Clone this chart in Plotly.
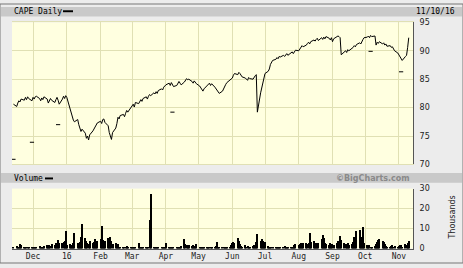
import pandas as pd
import plotly.graph_objects as go

W, H = 463, 268

# ---- data ----
close_nov15 = [80.6, 80.2, 80.8, 81.2, 81.0, 81.5, 81.3, 81.8, 81.4, 81.9, 81.6, 81.2]
close_dec15 = [81.8, 81.5, 81.9, 82.0, 81.6, 81.2, 81.7, 81.4, 81.9, 81.5, 80.8, 81.2,
               81.6, 81.3, 80.9, 81.4, 81.8, 81.3, 80.6, 81.5, 82.0, 81.6, 82.1]
close_jan16 = [81.8, 79.6, 79.0, 78.4, 77.8, 77.5, 77.9, 77.0, 76.4, 75.8, 76.2, 75.5,
               74.6, 75.0, 74.3, 75.2, 75.9, 76.2, 76.6, 77.0, 77.3]
close_feb16 = [77.6, 77.2, 77.9, 78.0, 77.4, 76.8, 75.6, 74.8, 74.4, 75.6, 76.4, 77.2,
               78.3, 78.0, 78.6, 78.8, 78.4, 79.0, 79.5, 79.2, 80.0]
close_mar16 = [80.2, 80.6, 80.1, 80.9, 80.7, 81.0, 81.4, 81.1, 81.6, 81.9, 81.5, 82.0,
               82.3, 82.1, 82.6, 82.4, 82.8, 82.5, 83.0, 83.3, 83.1, 83.6, 83.9]
close_apr16 = [84.0, 84.3, 83.9, 84.4, 84.1, 83.7, 83.9, 84.2, 84.6, 84.3, 84.0, 84.5,
               84.8, 85.1, 84.9, 85.0, 84.6, 84.3, 84.7, 84.4, 84.2]
close_may16 = [83.8, 83.4, 83.0, 82.9, 83.3, 83.8, 84.1, 84.3, 83.9, 84.2, 83.6, 83.3,
               83.0, 82.7, 82.5, 82.9, 83.4, 83.8, 84.1, 84.4, 84.8, 85.0]
close_jun16 = [85.2, 85.7, 86.0, 85.8, 86.2, 86.0, 85.6, 85.4, 85.2, 85.0, 84.8, 85.3,
               85.1, 85.0, 85.4, 85.6, 85.8, 79.2, 82.6, 83.4, 84.3, 85.4]
close_jul16 = [86.0, 86.4, 86.8, 87.6, 88.0, 88.3, 88.5, 88.8, 88.6, 89.0, 88.9, 89.2,
               89.0, 89.3, 89.5, 89.2, 89.6, 89.8, 89.5, 89.9, 90.1]
close_aug16 = [90.0, 90.3, 90.6, 90.9, 90.7, 91.0, 91.3, 91.5, 91.2, 91.6, 91.9, 91.7,
               92.0, 92.2, 91.8, 92.3, 92.0, 92.4, 92.1, 92.5, 92.2, 91.9, 92.3]
close_sep16 = [91.6, 92.1, 92.4, 92.6, 92.5, 92.3, 89.3, 89.8, 90.0, 89.7, 90.2, 90.0,
               90.4, 90.6, 90.9, 90.7, 91.1, 91.4, 91.2, 91.7, 92.0, 92.3]
close_oct16 = [92.4, 92.6, 92.3, 92.7, 92.5, 92.6, 91.0, 91.5, 91.3, 91.6, 91.2, 91.4,
               91.0, 91.2, 90.8, 90.9, 90.6, 90.7, 90.3, 90.0, 89.6]
close_nov16 = [89.3, 88.9, 88.5, 88.3, 89.0, 89.2, 90.6, 92.3]

vol_nov15 = [1.0, 1.5, 0.8, 1.2, 2.5, 1.8, 1.0, 0.7, 0.9, 0.5, 1.1, 0.8]
vol_dec15 = [0.9, 1.2, 0.8, 1.0, 1.4, 0.7, 1.1, 0.9, 1.3, 2.0, 1.6, 2.2, 1.5, 2.4, 1.8,
             3.0, 2.5, 4.5, 3.2, 2.8, 3.5, 4.0, 9.0]
vol_jan16 = [2.0, 2.5, 1.8, 2.2, 3.0, 8.0, 3.2, 2.8, 3.5, 6.0, 12.4, 5.5, 4.0, 3.2, 2.5,
             4.0, 3.0, 3.6, 4.8, 3.0, 4.2]
vol_feb16 = [5.0, 11.5, 4.5, 3.5, 4.2, 5.5, 3.0, 6.0, 4.0, 2.5, 2.8, 2.2, 2.6, 1.2, 1.0,
             0.8, 1.1, 0.9, 1.3, 0.7, 1.0]
vol_mar16 = [1.0, 0.8, 1.2, 0.9, 3.0, 1.0, 0.8, 0.7, 1.0, 0.9, 0.8, 1.1, 14.6, 27.3, 1.2,
             0.9, 1.0, 0.8, 1.1, 0.7, 0.9, 1.0, 0.8]
vol_apr16 = [3.0, 1.0, 0.8, 1.2, 0.9, 1.0, 0.7, 1.1, 0.8, 1.0, 1.3, 5.0, 2.5, 2.0, 1.8,
             2.2, 1.5, 2.0, 1.6, 1.4, 2.5]
vol_may16 = [1.2, 0.8, 1.0, 0.9, 1.1, 0.7, 0.8, 1.0, 0.9, 1.2, 1.0, 1.5, 3.5, 1.2, 0.8,
             1.0, 0.9, 1.1, 0.7, 0.9, 1.2, 2.0]
vol_jun16 = [3.0, 3.5, 2.8, 5.5, 4.0, 2.5, 1.5, 1.2, 1.8, 1.0, 1.4, 1.2, 0.9, 1.5, 2.0,
             1.2, 3.5, 7.5, 4.0, 5.0, 4.2, 3.0]
vol_jul16 = [3.5, 1.5, 1.0, 0.8, 1.2, 0.9, 0.7, 1.0, 1.1, 0.8, 0.6, 0.9, 1.3, 1.0, 0.8,
             0.7, 1.1, 0.9, 1.2, 2.0, 2.5]
vol_aug16 = [2.0, 2.5, 2.8, 2.8, 2.8, 2.8, 2.6, 3.0, 8.0, 3.5, 4.0, 3.0, 2.5, 3.2, 2.8,
             5.0, 7.0, 5.5, 3.0, 2.5, 2.0, 2.8, 2.2]
vol_sep16 = [2.5, 2.0, 3.0, 4.0, 2.8, 6.5, 4.5, 3.0, 2.5, 2.2, 2.8, 2.0, 2.5, 3.5, 6.0,
             5.0, 9.0, 9.5, 6.0, 5.5, 11.0, 3.0]
vol_oct16 = [2.0, 1.5, 1.8, 1.2, 1.0, 1.5, 2.5, 3.5, 4.5, 5.0, 4.2, 3.5, 2.5, 1.5, 1.2,
             1.0, 1.4, 1.8, 1.2, 1.5, 1.0]
vol_nov16 = [1.5, 1.8, 2.0, 1.2, 2.5, 2.0, 3.0, 4.0]

month_starts = ["2015-11-13", "2015-12-01", "2016-01-01", "2016-02-01", "2016-03-01",
                "2016-04-01", "2016-05-02", "2016-06-01", "2016-07-01", "2016-08-01",
                "2016-09-01", "2016-10-03", "2016-11-01"]

# isolated low prints
low_dates = ["2015-11-13", "2015-11-30", "2015-12-24", "2016-04-07", "2016-10-06", "2016-11-03"]
low_values = [70.9, 73.9, 77.0, 79.2, 89.9, 86.3]

tick_dates = ["2015-12-01", "2016-01-01", "2016-02-01", "2016-03-01", "2016-04-01",
              "2016-05-01", "2016-06-01", "2016-07-01", "2016-08-01", "2016-09-01",
              "2016-10-01", "2016-11-01"]
tick_labels = ["Dec", "16", "Feb", "Mar", "Apr", "May", "Jun", "Jul", "Aug", "Sep", "Oct", "Nov"]

price_ticks = [70, 75, 80, 85, 90, 95]
vol_ticks = [0, 10, 20, 30]

# ---- assemble ----
closes = [close_nov15, close_dec15, close_jan16, close_feb16, close_mar16, close_apr16,
          close_may16, close_jun16, close_jul16, close_aug16, close_sep16, close_oct16, close_nov16]
vols = [vol_nov15, vol_dec15, vol_jan16, vol_feb16, vol_mar16, vol_apr16, vol_may16,
        vol_jun16, vol_jul16, vol_aug16, vol_sep16, vol_oct16, vol_nov16]
dates, close, vol = [], [], []
for start, c, v in zip(month_starts, closes, vols):
    d = pd.bdate_range(start, periods=len(c))
    dates += list(d)
    close += c
    vol += v

def px(x):
    return x / W

def py(y):
    return 1 - y / H

BG = "#ececec"
HEAD = "#c9c9c9"
PLOT_BG = "#ffffe0"
GRID = "#e0e0b4"
MONO = "DejaVu Sans Mono"
SANS = "DejaVu Sans"

fig = go.Figure()
fig.add_trace(go.Scatter(x=dates, y=close, mode="lines",
                         line=dict(color="#000", width=1),
                         xaxis="x", yaxis="y", showlegend=False))
fig.add_trace(go.Scatter(x=low_dates, y=low_values, mode="markers",
                         marker=dict(symbol="line-ew", size=3, line=dict(color="#000", width=1)),
                         xaxis="x", yaxis="y", showlegend=False))
fig.add_trace(go.Bar(x=dates, y=vol, marker=dict(color="#000", line=dict(width=0)),
                     xaxis="x2", yaxis="y2", showlegend=False))

xrange = ["2015-11-11 16:00", "2016-11-13 22:00"]
xdom = [px(12), px(413)]

fig.update_layout(
    width=W, height=H, margin=dict(l=0, r=0, t=0, b=0),
    paper_bgcolor=BG, plot_bgcolor=PLOT_BG, bargap=0,
    xaxis=dict(domain=xdom, type="date", range=xrange, anchor="y",
               tickvals=tick_dates, showticklabels=False, ticks="",
               showgrid=True, gridcolor=GRID, gridwidth=1.2, zeroline=False,
               showline=True, linecolor=GRID, mirror=True),
    yaxis=dict(domain=[py(166), py(19)], range=[70, 95], side="right", anchor="x",
               tickvals=price_ticks, ticks="", showgrid=True, gridcolor=GRID, gridwidth=1.2,
               zeroline=False, showline=True, linecolor="#555", linewidth=1,
               tickfont=dict(family=SANS, size=8, color="#222"), ticklabelstandoff=4),
    xaxis2=dict(domain=xdom, type="date", range=xrange, anchor="y2",
                tickvals=tick_dates, ticktext=tick_labels, ticks="",
                showgrid=True, gridcolor=GRID, gridwidth=1.2, zeroline=False,
                showline=True, linecolor="#555", linewidth=1,
                tickfont=dict(family=MONO, size=8, color="#222")),
    yaxis2=dict(domain=[py(253), py(191)], range=[0, 30], side="right", anchor="x2",
                tickvals=vol_ticks, ticks="", showgrid=True, gridcolor=GRID, gridwidth=1.2,
                zeroline=False, showline=True, linecolor="#555", linewidth=1,
                tickfont=dict(family=SANS, size=8, color="#222"), ticklabelstandoff=4),
    shapes=[
        dict(type="rect", xref="paper", yref="paper", x0=px(1), x1=px(462), y0=py(13), y1=py(3),
             fillcolor=HEAD, line=dict(width=0), layer="below"),
        dict(type="rect", xref="paper", yref="paper", x0=px(1), x1=px(462), y0=py(185), y1=py(175),
             fillcolor=HEAD, line=dict(width=0), layer="below"),
        dict(type="rect", xref="paper", yref="paper", x0=px(63), x1=px(73), y0=py(8.5), y1=py(6.5),
             fillcolor="#000", line=dict(width=0)),
        dict(type="rect", xref="paper", yref="paper", x0=px(45), x1=px(53), y0=py(181.5), y1=py(179.5),
             fillcolor="#000", line=dict(width=0)),
        dict(type="rect", xref="paper", yref="paper", x0=0, x1=1, y0=0, y1=1,
             line=dict(color="#777", width=1)),
    ],
    annotations=[
        dict(text="CAPE Daily", x=px(12), y=py(8), xref="paper", yref="paper",
             xanchor="left", yanchor="middle", showarrow=False,
             font=dict(family=MONO, size=8, color="#000")),
        dict(text="11/10/16", x=px(457), y=py(8), xref="paper", yref="paper",
             xanchor="right", yanchor="middle", showarrow=False,
             font=dict(family=MONO, size=8, color="#000")),
        dict(text="Volume", x=px(12), y=py(180.5), xref="paper", yref="paper",
             xanchor="left", yanchor="middle", showarrow=False,
             font=dict(family=MONO, size=8, color="#000")),
        dict(text="<b>©BigCharts.com</b>", x=px(412), y=py(180.5), xref="paper", yref="paper",
             xanchor="right", yanchor="middle", showarrow=False,
             font=dict(family=SANS, size=8, color="#8a8a8a")),
        dict(text="Thousands", x=px(453), y=py(221), xref="paper", yref="paper",
             xanchor="center", yanchor="middle", showarrow=False, textangle=-90,
             font=dict(family=SANS, size=8, color="#222")),
    ],
)

fig.write_html("out.html")
